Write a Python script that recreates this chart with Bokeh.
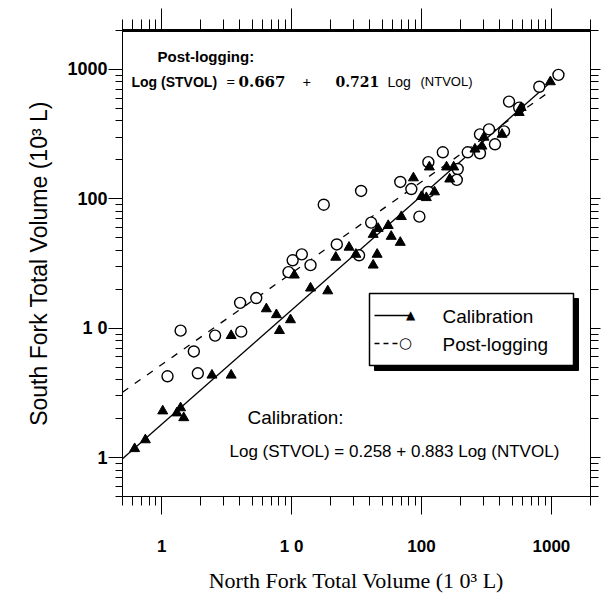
from bokeh.plotting import figure
from bokeh.models import LogAxis, LogTicker, Range1d, Label, BoxAnnotation, Arrow
from bokeh.embed import file_html
from bokeh.resources import INLINE

# ---------------- data (10^3 L) ----------------
calib_north = [0.62, 0.75, 1.02, 1.31, 1.40, 1.48, 2.44, 3.43, 3.43, 6.40, 7.65, 8.07, 9.82,
               10.5, 14.0, 19.0, 21.9, 27.7, 31.3, 42.5, 45.6, 42.5, 46.4, 55.5, 58.5, 68.7,
               70.0, 86.7, 100, 109, 115, 126, 156, 165, 177, 258, 292, 303, 417, 565, 585, 982]
calib_south = [1.17, 1.37, 2.29, 2.21, 2.42, 2.03, 4.33, 4.33, 8.76, 14.1, 12.7, 9.57, 11.6,
               25.7, 20.4, 19.4, 35.3, 42.2, 37.2, 30.7, 37.2, 53.0, 58.9, 62.1, 51.2, 46.0,
               72.8, 145, 104, 102, 176, 113, 176, 142, 176, 242, 255, 299, 315, 464, 507, 802]

post_north = [1.11, 1.40, 1.77, 1.90, 2.58, 4.10, 4.02, 5.35, 9.48, 10.2, 12.0, 14.0, 17.7,
              22.3, 34.3, 33.1, 41.0, 68.7, 83.6, 96.4, 113, 113, 146, 190, 187, 227, 282,
              282, 331, 368, 432, 472, 565, 807, 1133]
post_south = [4.25, 9.57, 6.61, 4.48, 8.76, 9.40, 15.7, 17.1, 27.1, 33.5, 37.2, 30.7, 90.0,
              44.4, 115, 36.6, 65.5, 135, 119, 72.8, 192, 113, 229, 170, 140, 229, 315,
              225, 344, 264, 332, 564, 507, 735, 908]

# fitted lines (end points)
calib_fit_north = [0.5, 1020]
calib_fit_south = [0.98, 820]
post_fit_north = [0.5, 900]
post_fit_south = [3.2, 640]

x_ticks = [1, 10, 100, 1000]
x_tick_labels = ["1", "1 0", "100", "1000"]
y_ticks = [1, 10, 100, 1000]
y_tick_labels = ["1", "1 0", "100", "1000"]

SANS = "Liberation Sans"
SERIF = "Liberation Serif"

FL, FT = 122, 30          # frame left / top on canvas
FB = 497                  # frame bottom on canvas


def sx(X):
    return X - FL


def sy(Y):
    return FB - Y


p = figure(width=605, height=595, x_axis_type="log", y_axis_type="log",
           x_range=Range1d(0.5, 2000), y_range=Range1d(0.5, 2000),
           output_backend="svg", toolbar_location=None,
           min_border_left=FL, min_border_right=15, min_border_top=FT, min_border_bottom=98)
p.outline_line_color = None
p.xgrid.visible = False
p.ygrid.visible = False
p.background_fill_color = "white"
p.border_fill_color = "white"

# bottom axis
xa = p.xaxis[0]
xa.ticker = LogTicker(num_minor_ticks=10)
xa.major_label_overrides = dict(zip(x_ticks, x_tick_labels))
xa.major_tick_out = 18
xa.major_tick_in = 0
xa.minor_tick_out = 9
xa.minor_tick_in = 0
xa.major_label_standoff = 22
xa.major_label_text_font = SANS
xa.major_label_text_font_size = "17px"
xa.major_label_text_font_style = "bold"
xa.major_label_text_color = "black"
xa.axis_label = "North Fork Total Volume (1 0³ L)"
xa.axis_label_text_font = SERIF
xa.axis_label_text_font_size = "22px"
xa.axis_label_text_font_style = "normal"
xa.axis_label_text_color = "black"
xa.axis_label_standoff = 9
xa.axis_line_color = "black"
xa.major_tick_line_color = "black"
xa.minor_tick_line_color = "black"

# left axis
ya = p.yaxis[0]
ya.ticker = LogTicker(num_minor_ticks=10)
ya.major_label_overrides = dict(zip(y_ticks, y_tick_labels))
ya.major_tick_out = 14
ya.major_tick_in = 0
ya.minor_tick_out = 7
ya.minor_tick_in = 0
ya.major_label_standoff = 1
ya.major_label_text_font = SANS
ya.major_label_text_font_size = "18px"
ya.major_label_text_font_style = "bold"
ya.major_label_text_color = "black"
ya.axis_label = "South Fork Total Volume (10³ L)"
ya.axis_label_text_font = SANS
ya.axis_label_text_font_size = "23px"
ya.axis_label_text_font_style = "normal"
ya.axis_label_text_color = "black"
ya.axis_label_standoff = 12
ya.axis_line_color = "black"

# top axis (thick line, ticks outward)
ta = LogAxis(ticker=LogTicker(num_minor_ticks=10), major_tick_out=22, major_tick_in=0,
             minor_tick_out=11, minor_tick_in=0, axis_line_width=3,
             major_label_text_font_size="2px", major_label_text_alpha=0,
             major_label_standoff=0)
p.add_layout(ta, "above")

# right axis
ra = LogAxis(ticker=LogTicker(num_minor_ticks=10), major_tick_out=10, major_tick_in=0,
             minor_tick_out=8, minor_tick_in=0, axis_line_width=1,
             major_label_text_font_size="2px", major_label_text_alpha=0,
             major_label_standoff=0)
p.add_layout(ra, "right")

# fitted lines
p.line(calib_fit_north, calib_fit_south, line_color="black", line_width=1.3)
p.line(post_fit_north, post_fit_south, line_color="black", line_width=1.3, line_dash="7 8")

# points
p.scatter(post_north, post_south, marker="circle", size=11, fill_color="white",
          line_color="black", line_width=1.4)
p.scatter(calib_north, calib_south, marker="triangle", size=10, fill_color="black",
          line_color="black")


# ---------------- annotations ----------------
def lab(text, X, Y, size, font=SANS, style="normal", align="left", baseline="middle"):
    p.add_layout(Label(x=sx(X), y=sy(Y + 2), x_units="screen", y_units="screen", text=text,
                       text_font=font, text_font_size=size, text_font_style=style,
                       text_align=align, text_baseline=baseline, text_color="black"))


lab("Post-logging:", 157, 55, "15px", style="bold")
lab("Log (STVOL)", 131, 80, "14px", style="bold")
lab("=", 226, 80, "15px", font=SERIF, style="bold")
lab("0.667", 238, 80, "15px", font="DejaVu Serif", style="bold")
lab("+", 302, 80, "15px", font=SERIF, style="bold")
lab("0.721", 335, 80, "14px", font="DejaVu Serif", style="bold")
lab("Log", 387, 80, "14px")
lab("(NTVOL)", 420, 80, "13px")

lab("Calibration:", 247, 416, "19px")
lab("Log (STVOL) = 0.258 + 0.883 Log (NTVOL)", 229, 450, "17px")

# legend box with drop shadow
p.add_layout(BoxAnnotation(left=sx(374), right=sx(578), top=sy(299), bottom=sy(371),
                           left_units="screen", right_units="screen",
                           top_units="screen", bottom_units="screen",
                           fill_color="black", fill_alpha=1, line_color="black", line_alpha=1))
p.add_layout(BoxAnnotation(left=sx(369), right=sx(573), top=sy(294), bottom=sy(366),
                           left_units="screen", right_units="screen",
                           top_units="screen", bottom_units="screen",
                           fill_color="white", fill_alpha=1, line_color="black",
                           line_alpha=1, line_width=1.5))
p.add_layout(Arrow(end=None, x_start=sx(374), y_start=sy(316), x_end=sx(409), y_end=sy(316),
                   start_units="screen", end_units="screen", line_color="black", line_width=1.3))
p.add_layout(Arrow(end=None, x_start=sx(374), y_start=sy(344), x_end=sx(400), y_end=sy(344),
                   start_units="screen", end_units="screen", line_color="black", line_width=1.3,
                   line_dash="5 4"))
lab("▲", 410, 313, "12px", font="DejaVu Sans", align="center")
lab("○", 405, 341, "15px", font="DejaVu Sans", align="center")
lab("Calibration", 442, 315, "19px")
lab("Post-logging", 442, 343, "19px")

open("out.html", "w").write(file_html(p, INLINE))
